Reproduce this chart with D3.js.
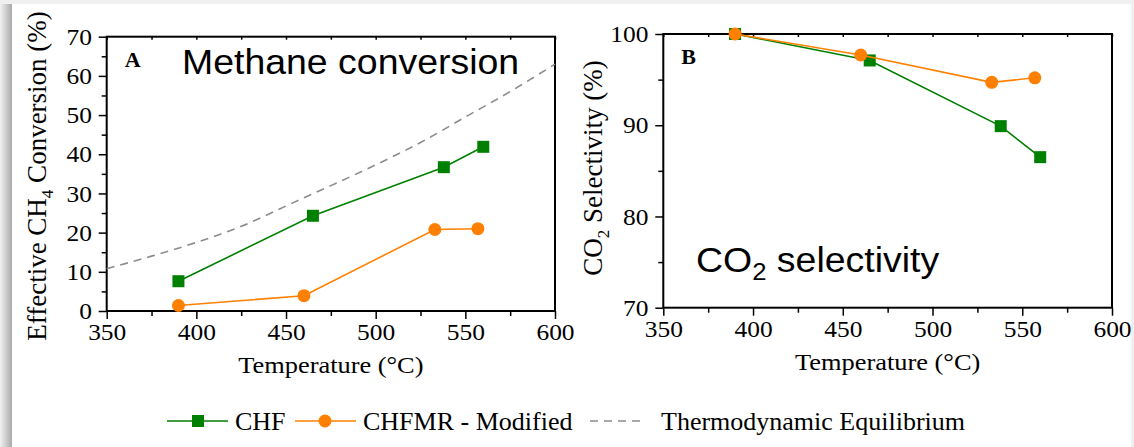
<!DOCTYPE html>
<html>
<head>
<meta charset="utf-8">
<script src="https://cdn.jsdelivr.net/npm/d3@7"></script>
<style>
body{margin:0;background:#f0f0f0;}
svg{display:block;}
</style>
</head>
<body>
<svg id="chart" width="1134" height="447"></svg>
<script>
// data
var tempCHF = [390, 465, 538, 560];
var convCHF = [7.6, 24.3, 36.7, 41.9];
var selCHF  = [100, 97.1, 89.9, 86.5];

var tempMR = [390, 460, 533, 557];
var convMR = [1.4, 3.9, 20.8, 21.0];
var selMR  = [100, 97.7, 94.7, 95.2];

var eqTemp = [350, 375, 400, 425, 450, 475, 500, 525, 550, 575, 600];
var eqConv = [10.8, 14.0, 17.5, 21.6, 26.8, 32.0, 37.3, 43.0, 49.5, 56.0, 63.0];

var xTicks = [350, 400, 450, 500, 550, 600];
var xMinor = [375, 425, 475, 525, 575];
var yTicksA = [0, 10, 20, 30, 40, 50, 60, 70];
var yMinorA = [5, 15, 25, 35, 45, 55, 65];
var yTicksB = [70, 80, 90, 100];
var yMinorB = [75, 85, 95];

var legendNames = ["CHF", "CHFMR - Modified", "Thermodynamic Equilibrium"];

var green = "#008000", orange = "#ff8000", grey = "#8c8c8c";
var serif = "'Liberation Serif','Times New Roman',serif";
var sans = "'Liberation Sans',Arial,sans-serif";

var svg = d3.select("#chart");

// page frame: grey strips and a left shadow round a white card
var defs = svg.append("defs");
var grad = defs.append("linearGradient").attr("id", "shade");
grad.append("stop").attr("offset", "0%").attr("stop-color", "#f2f2f2");
grad.append("stop").attr("offset", "100%").attr("stop-color", "#a9a9a9");
svg.append("rect").attr("x", 0).attr("y", 0).attr("width", 1134).attr("height", 447).attr("fill", "#f0f0f0");
svg.append("rect").attr("x", 12).attr("y", 4).attr("width", 1119).attr("height", 443).attr("fill", "#fff");
svg.append("rect").attr("x", 0).attr("y", 4).attr("width", 12).attr("height", 443).attr("fill", "url(#shade)");

function drawPanel(p){
    var x = d3.scaleLinear().domain([350, 600]).range([p.left, p.right]);
    var y = d3.scaleLinear().domain(p.ydom).range([p.bottom, p.top]);

    var g = svg.append("g");

    // minor ticks
    g.append("g").attr("transform", "translate(0," + p.bottom + ")")
        .call(d3.axisBottom(x).tickValues(xMinor).tickSize(5).tickFormat(""));
    g.append("g").attr("transform", "translate(" + p.left + ",0)")
        .call(d3.axisLeft(y).tickValues(p.yminor).tickSize(5).tickFormat(""));
    g.append("g").attr("transform", "translate(0," + p.top + ")")
        .call(d3.axisBottom(x).tickValues(xTicks.concat(xMinor)).tickSize(3).tickFormat(""));

    // major ticks + labels
    g.append("g").attr("transform", "translate(0," + p.bottom + ")")
        .call(d3.axisBottom(x).tickValues(xTicks).tickSize(8).tickPadding(4));
    g.append("g").attr("transform", "translate(" + p.left + ",0)")
        .call(d3.axisLeft(y).tickValues(p.yticks).tickSize(8).tickPadding(6));

    g.selectAll(".domain").remove();
    g.selectAll(".tick line").attr("stroke", "#000").attr("stroke-width", 1.5);
    g.selectAll(".tick text").attr("fill", "#000")
        .style("font-family", serif).style("font-size", "24px")
        .attr("transform", "scale(1.06,1)");

    // box
    g.append("rect").attr("x", p.left).attr("y", p.top)
        .attr("width", p.right - p.left).attr("height", p.bottom - p.top)
        .attr("fill", "none").attr("stroke", "#000").attr("stroke-width", 2);

    // axis titles
    g.append("text")
        .attr("transform", "translate(" + ((p.left + p.right) / 2) + "," + (p.bottom + 62) + ") scale(1.1,1)")
        .attr("text-anchor", "middle")
        .style("font-family", serif).style("font-size", "24px")
        .text("Temperature (\u00b0C)");

    var yt = g.append("text")
        .attr("transform", "translate(" + p.ytx + "," + p.yty + ") rotate(-90)")
        .attr("text-anchor", "middle")
        .style("font-family", serif).style("font-size", "27px");
    yt.append("tspan").text(p.ytitle[0]);
    yt.append("tspan").attr("dy", 7).style("font-size", "17px").text(p.ytitle[1]);
    yt.append("tspan").attr("dy", -7).text(p.ytitle[2]);

    // panel letter
    g.append("text")
        .attr("transform", "translate(" + (p.left + 18) + "," + (p.top + 30) + ") scale(1.1,1)")
        .style("font-family", serif).style("font-size", "20px").style("font-weight", "bold")
        .text(p.letter);

    return {g: g, x: x, y: y};
}

function drawSeries(P, temps, vals, color, shape){
    var pts = temps.map(function(t, i){ return [t, vals[i]]; });
    var line = d3.line().x(function(d){ return P.x(d[0]); }).y(function(d){ return P.y(d[1]); });
    P.g.append("path").datum(pts).attr("d", line)
        .attr("fill", "none").attr("stroke", color).attr("stroke-width", 1.6);
    if (shape == "square"){
        P.g.selectAll(null).data(pts).enter().append("rect")
            .attr("x", function(d){ return P.x(d[0]) - 6; })
            .attr("y", function(d){ return P.y(d[1]) - 6; })
            .attr("width", 12).attr("height", 12).attr("fill", color);
    } else {
        P.g.selectAll(null).data(pts).enter().append("circle")
            .attr("cx", function(d){ return P.x(d[0]); })
            .attr("cy", function(d){ return P.y(d[1]); })
            .attr("r", 6.5).attr("fill", color);
    }
}

// panel A
var A = drawPanel({left: 106.7, right: 555, top: 36.7, bottom: 311,
    ydom: [0, 70], yticks: yTicksA, yminor: yMinorA, letter: "A",
    ytx: 46, yty: 176, ytitle: ["Effective CH", "4", " Conversion (%)"]});

var eqPts = eqTemp.map(function(t, i){ return [t, eqConv[i]]; });
A.g.append("path").datum(eqPts)
    .attr("d", d3.line().curve(d3.curveMonotoneX)
        .x(function(d){ return A.x(d[0]); }).y(function(d){ return A.y(d[1]); }))
    .attr("fill", "none").attr("stroke", grey).attr("stroke-width", 1.6)
    .attr("stroke-dasharray", "8,6");

drawSeries(A, tempCHF, convCHF, green, "square");
drawSeries(A, tempMR, convMR, orange, "circle");

A.g.append("text")
    .attr("transform", "translate(182,74) scale(1.07,1)")
    .style("font-family", sans).style("font-size", "35px")
    .text("Methane conversion");

// panel B
var B = drawPanel({left: 663.3, right: 1112, top: 34, bottom: 307.7,
    ydom: [70, 100], yticks: yTicksB, yminor: yMinorB, letter: "B",
    ytx: 602, yty: 168, ytitle: ["CO", "2", " Selectivity (%)"]});

drawSeries(B, tempCHF, selCHF, green, "square");
drawSeries(B, tempMR, selMR, orange, "circle");

var co2 = B.g.append("text")
    .attr("transform", "translate(696,272) scale(1.07,1)")
    .style("font-family", sans).style("font-size", "35px");
co2.append("tspan").text("CO");
co2.append("tspan").attr("dy", 8).style("font-size", "24px").text("2");
co2.append("tspan").attr("dy", -8).text(" selectivity");

// legend
var lg = svg.append("g").attr("transform", "translate(0,421)");
function legendText(x, s){
    lg.append("text").attr("transform", "translate(" + x + ",9)")
        .style("font-family", serif).style("font-size", "26px").text(s);
}
lg.append("line").attr("x1", 167).attr("x2", 228).attr("stroke", green).attr("stroke-width", 1.6);
lg.append("rect").attr("x", 192).attr("y", -6).attr("width", 12).attr("height", 12).attr("fill", green);
legendText(235, legendNames[0]);
lg.append("line").attr("x1", 295).attr("x2", 356).attr("stroke", orange).attr("stroke-width", 1.6);
lg.append("circle").attr("cx", 325).attr("cy", 0).attr("r", 6.5).attr("fill", orange);
legendText(363, legendNames[1]);
lg.append("line").attr("x1", 590).attr("x2", 646).attr("stroke", grey).attr("stroke-width", 1.6)
    .attr("stroke-dasharray", "8,6");
legendText(661, legendNames[2]);
</script>
</body>
</html>
